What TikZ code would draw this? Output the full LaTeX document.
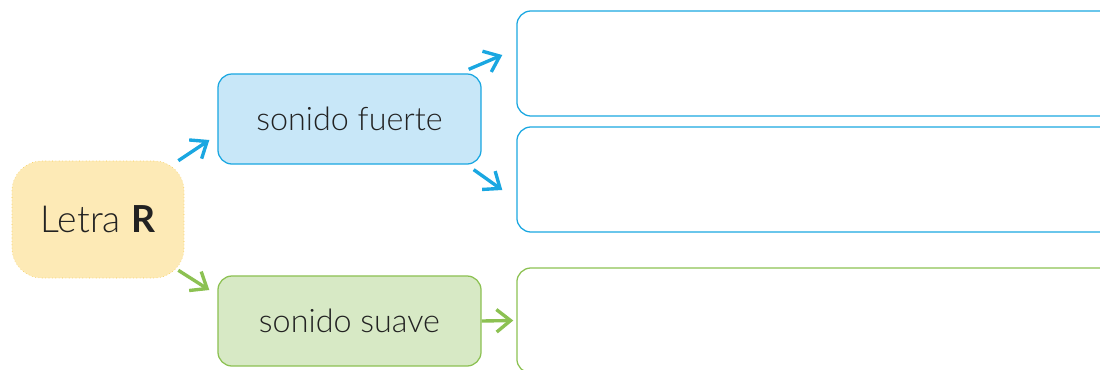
\documentclass[tikz,border=0pt]{standalone}
\usepackage{fontspec}
\setmainfont{Lato}[UprightFont=* Light,BoldFont=* Bold]
\usetikzlibrary{arrows.meta}
\definecolor{yelfill}{HTML}{FDEAB6}
\definecolor{yelline}{HTML}{F5C84A}
\definecolor{bluefill}{HTML}{C8E7F8}
\definecolor{blueline}{HTML}{1AA7E1}
\definecolor{greenfill}{HTML}{D7E9C5}
\definecolor{greenline}{HTML}{8CC152}
\definecolor{txt}{HTML}{222222}

\begin{document}
\begin{tikzpicture}[x=0.025cm,y=-0.025cm,
  arr/.style={line width=2.4pt,-{Straight Barb[length=10pt,width=16pt,line width=2.4pt]}},
  mainbox/.style={draw=yelline,dotted,fill=yelfill,rounded corners=0.75cm,minimum width=4.3cm,minimum height=2.925cm,font=\fontsize{26.5}{30}\selectfont,text=txt},
  sndbox/.style={draw,line width=0.9pt,rounded corners=0.35cm,minimum width=6.575cm,minimum height=2.25cm,font=\fontsize{23}{27}\selectfont,text=txt},
  ansbox/.style={draw,line width=0.9pt,rounded corners=0.35cm,minimum width=14.95cm,minimum height=2.625cm}]
  \useasboundingbox (0,0) rectangle (1100,369);
  \clip (0,0) rectangle (1100,369);
  \node[mainbox] (r) at (98,219.5) {Letra \textbf{R}};
  \node[sndbox,draw=blueline,fill=bluefill] (f) at (349.5,119) {sonido fuerte};
  \node[sndbox,draw=greenline,fill=greenfill] (s) at (349.5,321) {sonido suave};
  \node[ansbox,draw=blueline] (b1) at (816,63.5) {};
  \node[ansbox,draw=blueline] (b2) at (816,179.5) {};
  \node[ansbox,draw=greenline] (b3) at (816,320.5) {};
  \draw[arr,blueline] ([shift={(-6,0)}]r.north east) -- ([shift={(-8,21)}]f.west);
  \draw[arr,greenline] ([shift={(-6,-8)}]r.south east) -- ([shift={(-8,-31)}]s.west);
  \draw[arr,blueline] ([shift={(-13,-4)}]f.north east) -- ([shift={(-14,-8.5)}]b1.west);
  \draw[arr,blueline] ([shift={(-8,5)}]f.south east) -- ([shift={(-14,10.5)}]b2.west);
  \draw[arr,greenline] (s.east) -- ([shift={(-3,0)}]b3.west);
\end{tikzpicture}
\end{document}
